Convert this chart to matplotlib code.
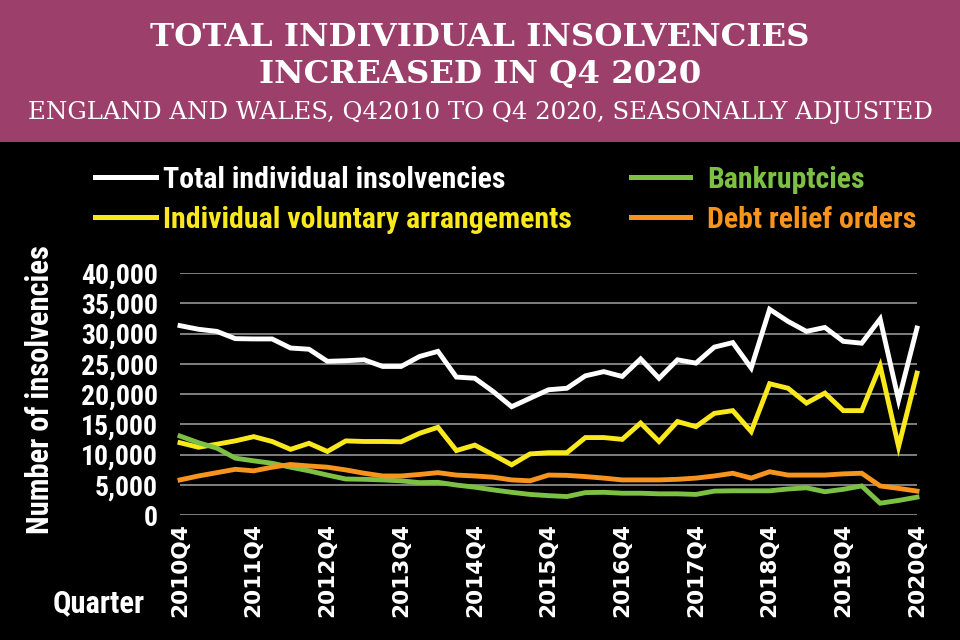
import matplotlib
matplotlib.use('Agg')
import matplotlib.pyplot as plt
from matplotlib import font_manager
from matplotlib.lines import Line2D

quarters = [f'{2010 + (i + 3) // 4}Q{(i + 3) % 4 + 1}' for i in range(41)]

total = [31300, 30700, 30350, 29150, 29100, 29100, 27600, 27400, 25400, 25500,
         25650, 24550, 24550, 26200, 27050, 22800, 22600, 20400, 17900, 19300,
         20700, 20950, 23000, 23700, 22900, 25800, 22600, 25650, 25100, 27750,
         28500, 24300, 34000, 32000, 30350, 31000, 28700, 28400, 32400, 19000,
         30900]
iva = [11950, 11200, 11700, 12250, 12950, 12150, 10850, 11850, 10500, 12250,
       12150, 12150, 12100, 13500, 14500, 10650, 11550, 9950, 8300, 10100,
       10300, 10300, 12800, 12800, 12500, 15200, 12150, 15450, 14600, 16800,
       17250, 13800, 21700, 20950, 18500, 20150, 17250, 17250, 24650, 11300,
       23450]
bankruptcies = [13050, 11950, 11050, 9400, 8950, 8550, 7900, 7300, 6600, 5950,
                5900, 5800, 5650, 5350, 5400, 4950, 4600, 4150, 3750, 3400,
                3200, 3050, 3700, 3750, 3600, 3600, 3500, 3500, 3400, 3950,
                4000, 4000, 4000, 4300, 4500, 3850, 4250, 4800, 1950, 2400,
                2950]
dro = [5800, 6450, 7000, 7550, 7300, 7900, 8350, 8100, 7900, 7450,
       6900, 6450, 6450, 6700, 7000, 6600, 6450, 6250, 5800, 5650,
       6600, 6550, 6350, 6100, 5800, 5800, 5800, 5900, 6100, 6450,
       6900, 6100, 7150, 6600, 6600, 6600, 6800, 6900, 4800, 4400,
       3950]

series = ['Total individual insolvencies', 'Individual voluntary arrangements',
          'Bankruptcies', 'Debt relief orders']
values = [total, iva, bankruptcies, dro]
colors = ['#ffffff', '#f9e91c', '#7cc143', '#f7941d']

yticks = list(range(0, 40001, 5000))
xtick_pos = list(range(0, 41, 4))


def pick_narrow():
    fl = font_manager.fontManager.ttflist
    for name in ['Liberation Sans Narrow', 'Roboto Condensed',
                 'Open Sans Condensed', 'Noto Sans Condensed',
                 'DejaVu Sans Condensed']:
        if any(f.name == name for f in fl):
            return {'family': [name, 'DejaVu Sans']}
    for fam in ['Noto Sans', 'Open Sans', 'Roboto', 'DejaVu Sans', 'Lato']:
        if any(f.name == fam and str(f.stretch) in
               ('condensed', 'semi-condensed', 'extra-condensed')
               for f in fl):
            return {'family': fam, 'stretch': 'condensed'}
    return {'family': 'DejaVu Sans'}


narrow = pick_narrow()
narrow['weight'] = 'bold'
serif = ['DejaVu Serif']

fig = plt.figure(figsize=(9.6, 6.4), dpi=100, facecolor='black')
renderer = fig.canvas.get_renderer()


def fit_size(s, props, target, max_size):
    t = fig.text(0, 0, s, size=10, **props)
    w = t.get_window_extent(renderer).width
    t.remove()
    return min(max_size, 10 * target / w)


# title band
fig.patches.append(plt.Rectangle((0, 1 - 142 / 640), 1, 142 / 640,
                                 transform=fig.transFigure,
                                 facecolor='#9c406b', zorder=0))
fig.text(0.5, 1 - 37 / 640, 'TOTAL INDIVIDUAL INSOLVENCIES', color='white',
         family=serif, weight='bold', size=23.3, ha='center', va='center')
fig.text(0.5, 1 - 75 / 640, 'INCREASED IN Q4 2020', color='white',
         family=serif, weight='bold', size=23.3, ha='center', va='center')
fig.text(0.5, 1 - 113 / 640,
         'ENGLAND AND WALES, Q42010 TO Q4 2020, SEASONALLY ADJUSTED',
         color='white', family=serif, size=17.6, ha='center', va='center')

# legend, drawn by hand
leg_size = fit_size(series[0], narrow, 343, 23)
leg_x = [(95, 156, 163), (95, 156, 163), (631, 690, 707), (631, 690, 707)]
leg_y = [180, 220, 180, 220]
for name, c, (x0, x1, xt), y in zip(series, colors, leg_x, leg_y):
    fy = 1 - y / 640
    fig.add_artist(Line2D([x0 / 960, x1 / 960], [fy + 3 / 640, fy + 3 / 640],
                          color=c, lw=3.6, transform=fig.transFigure))
    fig.text(xt / 960, fy, name, color=c, size=leg_size, ha='left',
             va='center', **narrow)

ax = fig.add_axes([180 / 960, 1 - 515 / 640, 737 / 960, 242 / 640])
ax.set_facecolor('black')
for v, c in zip(values, colors):
    ax.plot(range(len(v)), v, color=c, lw=3.5, clip_on=False,
            solid_joinstyle='miter', zorder=3)

ax.set_xlim(0, 40)
ax.set_ylim(0, 40000)
ytick_size = fit_size('40,000', narrow, 80, 20)
ax.set_yticks(yticks)
ax.set_yticklabels([f'{t:,}' for t in yticks], size=ytick_size,
                   color='white', **narrow)
xtick_size = fit_size('2010Q4', {'family': 'DejaVu Sans', 'weight': 'bold'},
                      94, 17)
ax.set_xticks(xtick_pos)
ax.set_xticklabels([quarters[i] for i in xtick_pos], rotation=90,
                   family='DejaVu Sans', weight='bold', size=xtick_size,
                   color='white', va='top')
ax.tick_params(length=0, axis='y', pad=16)
ax.tick_params(length=0, axis='x', pad=6)
for s in ax.spines.values():
    s.set_visible(False)
ax.grid(axis='y', color='#8a8a8a', lw=1.3)
ax.set_axisbelow(True)

ylab_size = fit_size('Number of insolvencies', narrow, 290, 22)
fig.text(40 / 960, 1 - 390 / 640, 'Number of insolvencies', rotation=90,
         color='white', size=ylab_size, ha='center', va='center', **narrow)
q_size = fit_size('Quarter', narrow, 97, 22)
fig.text(53 / 960, 1 - 603 / 640, 'Quarter', color='white', size=q_size,
         ha='left', va='center', **narrow)

fig.savefig('out.png', dpi=100, facecolor='black')
